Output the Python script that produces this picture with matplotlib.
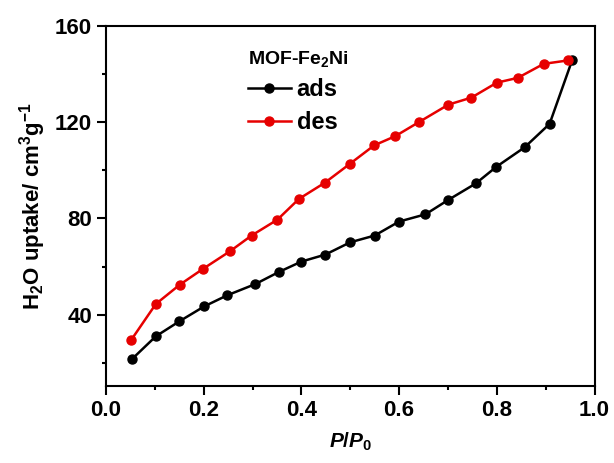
import matplotlib
matplotlib.use("Agg")
import matplotlib.pyplot as plt
from matplotlib.ticker import MultipleLocator

plt.rcParams['font.family'] = ['Liberation Sans', 'DejaVu Sans']
plt.rcParams['font.weight'] = 'bold'
plt.rcParams['mathtext.fontset'] = 'custom'
plt.rcParams['mathtext.rm'] = 'Liberation Sans:bold'
plt.rcParams['mathtext.bf'] = 'Liberation Sans:bold'
plt.rcParams['mathtext.it'] = 'Liberation Sans:bold:italic'
plt.rcParams['mathtext.default'] = 'rm'

# Data
ads_x = [0.054, 0.102, 0.150, 0.201, 0.248, 0.306, 0.354, 0.400, 0.449, 0.500,
         0.550, 0.600, 0.654, 0.700, 0.757, 0.799, 0.857, 0.908, 0.954]
ads_y = [21.8, 31.1, 37.3, 43.5, 48.1, 52.8, 57.8, 62.1, 65.0, 70.1,
         72.9, 78.7, 81.7, 87.6, 94.5, 101.4, 109.5, 119.2, 145.5]
des_x = [0.052, 0.102, 0.151, 0.198, 0.254, 0.298, 0.351, 0.395, 0.448, 0.499,
         0.549, 0.592, 0.641, 0.701, 0.748, 0.800, 0.843, 0.896, 0.945]
des_y = [29.7, 44.5, 52.5, 59.0, 66.4, 72.9, 79.5, 88.1, 94.8, 102.6,
         110.3, 114.1, 120.0, 127.2, 130.1, 136.3, 138.3, 144.1, 145.5]
x_ticks = [0.0, 0.2, 0.4, 0.6, 0.8, 1.0]
y_ticks = [40, 80, 120, 160]

fig = plt.figure(figsize=(6.14, 4.63), dpi=100)
ax = fig.add_axes([0.1726, 0.1663, 0.9683 - 0.1726, 0.9449 - 0.1663])

ax.plot(ads_x, ads_y, color='black', lw=1.8, marker='o', ms=6.5, label='ads')
ax.plot(des_x, des_y, color='#e60000', lw=1.8, marker='o', ms=6.5, label='des')

ax.set_xlim(0, 1.0)
ax.set_ylim(10.5, 160)
ax.set_xticks(x_ticks)
ax.set_yticks(y_ticks)
ax.xaxis.set_minor_locator(MultipleLocator(0.1))
ax.yaxis.set_minor_locator(MultipleLocator(20))
ax.set_xticklabels([f"{v:.1f}" for v in x_ticks])
ax.set_yticklabels([str(v) for v in y_ticks])
ax.tick_params(which='major', direction='out', length=6.5, width=1.5,
               labelsize=16, pad=3.5)
ax.tick_params(which='minor', direction='out', length=3, width=1.5)
for lab in ax.get_xticklabels() + ax.get_yticklabels():
    lab.set_fontweight('bold')
for s in ax.spines.values():
    s.set_linewidth(1.5)

ax.set_xlabel(r"$\mathit{P}/\mathit{P}_0$", fontsize=15, labelpad=7)
ax.set_ylabel(r"H$_2$O uptake/ cm$^3$g$^{-1}$", fontsize=16, fontweight='bold', labelpad=5)

leg = ax.legend(title=r"MOF-Fe$_2$Ni", loc='upper left', bbox_to_anchor=(0.29, 0.935),
                frameon=False, prop={'size': 17, 'weight': 'bold'},
                title_fontproperties={'size': 14, 'weight': 'bold'},
                handlelength=1.85, handletextpad=0.22, labelspacing=0.4,
                alignment='left', borderaxespad=0, borderpad=0)

fig.savefig("out.png", dpi=100)
